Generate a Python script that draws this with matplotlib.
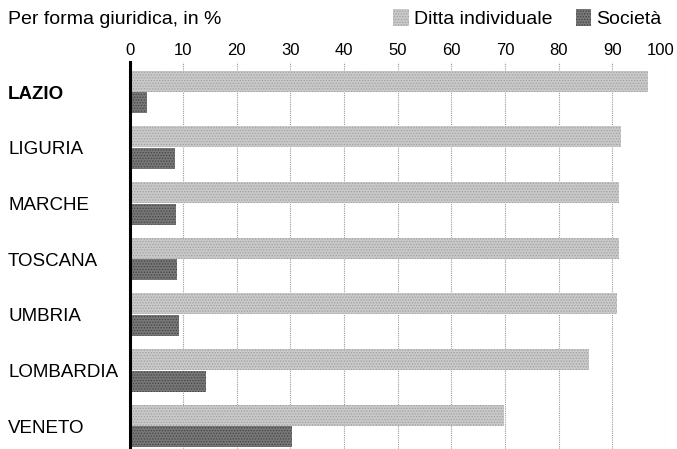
import matplotlib.pyplot as plt
import matplotlib.transforms as mtransforms
import numpy as np

regions = ["LAZIO", "LIGURIA", "MARCHE", "TOSCANA", "UMBRIA", "LOMBARDIA", "VENETO"]
ditta = [96.7, 91.6, 91.3, 91.2, 90.8, 85.7, 69.8]
societa = [3.3, 8.5, 8.7, 8.8, 9.2, 14.3, 30.2]
xticks = [0, 10, 20, 30, 40, 50, 60, 70, 80, 90, 100]

plt.rcParams["font.family"] = ["Liberation Sans", "DejaVu Sans"]
plt.rcParams["hatch.linewidth"] = 0.6

W, H = 677, 449
fig = plt.figure(figsize=(W / 100, H / 100), dpi=100)
x0, x1, ytop = 129.5, 666.0, 62.0
ax = fig.add_axes([x0 / W, 0, (x1 - x0) / W, 1 - ytop / H])

pos = np.arange(len(regions))
h = 0.377
off = 0.197
ax.barh(pos - off, ditta, height=h, color="#c9c9c9", edgecolor="#a0a0a0",
        hatch="......", linewidth=0, zorder=2, label="Ditta individuale")
ax.barh(pos + off, societa, height=h, color="#777777", edgecolor="#444444",
        hatch="......", linewidth=0, zorder=2, label="Società")

ax.set_xlim(0, 100)
ax.set_ylim(6.413, -0.539)
ax.xaxis.tick_top()
ax.set_xticks(xticks)
ax.set_xticklabels([str(t) for t in xticks], fontsize=12)
ax.tick_params(axis="x", length=0, pad=3)
ax.grid(axis="x", color="#9a9a9a", linestyle=(0, (1, 1)), linewidth=0.8, zorder=1)

# keep "100" inside the right edge
last = ax.get_xticklabels()[-1]
last.set_transform(last.get_transform() + mtransforms.ScaledTranslation(-4 / 72, 0, fig.dpi_scale_trans))

ax.set_yticks(pos)
ax.set_yticklabels(regions, fontsize=13.5, ha="left")
ax.tick_params(axis="y", length=0, pad=(x0 - 8) * 0.72)
ax.get_yticklabels()[0].set_fontweight("bold")

for s in ["top", "right", "bottom"]:
    ax.spines[s].set_visible(False)
ax.spines["left"].set_linewidth(2.2)
ax.spines["left"].set_color("black")
ax.spines["left"].set_zorder(3)

fig.text(8 / W, 1 - 19 / H, "Per forma giuridica, in %", fontsize=14, va="center", ha="left")

fig.legend(loc="upper right", bbox_to_anchor=(1 - 8 / W, 1 - 1 / H), ncol=2, frameon=False,
           fontsize=14, handlelength=0.8, handleheight=1.0, handletextpad=0.25,
           columnspacing=1.2, borderaxespad=0)

fig.savefig("out.png", dpi=100)
